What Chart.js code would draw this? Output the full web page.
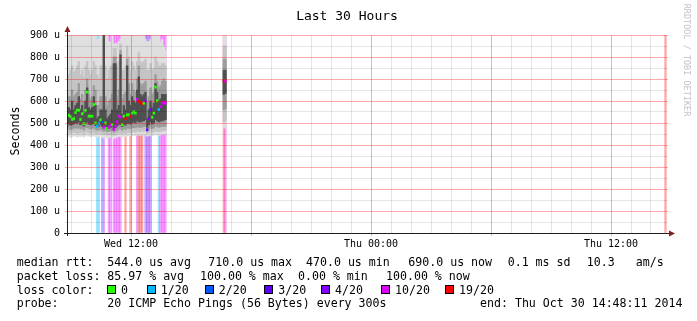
<!DOCTYPE html>
<html>
<head>
<meta charset="utf-8">
<title>Last 30 Hours</title>
<script src="https://cdn.jsdelivr.net/npm/chart.js@4.4.0/dist/chart.umd.min.js"></script>
<style>
body { margin: 0; background: #fff; }
#wrap { position: relative; width: 697px; height: 321px; overflow: hidden; font-family: 'DejaVu Sans Mono', monospace; color: #000; }
#wrap canvas { position: absolute; left: 0; top: 0; }
.t { position: absolute; white-space: pre; font-size: 11.6px; line-height: 14px; }
.box { position: absolute; width: 7px; height: 7px; border: 1px solid #000; }
</style>
</head>
<body>
<div id="wrap">
  <canvas id="myChart" width="697" height="321"></canvas>
  <div class="t" style="left:0; top:8px; width:694px; text-align:center; font-size:13px; line-height:16px;">Last 30 Hours</div>
  <div class="t" style="left:-35px; top:124px; width:100px; text-align:center; transform:rotate(-90deg);">Seconds</div>
  <div class="t" style="left:622px; top:55px; width:130px; text-align:center; font-size:8.5px; line-height:10px; color:#c4c4c4; transform:rotate(90deg);">RRDTOOL / TOBI OETIKER</div>
  <div id="legend"></div>
</div>
<script>
Chart.defaults.font.family = "'DejaVu Sans Mono', monospace";
Chart.defaults.font.size = 10;
Chart.defaults.color = '#000';

// time axis in hours since Wed 00:00, one sample every 300 s
var startHour = 8.85;
var stepHours = 300 / 3600;
var xTickValues = [12, 24, 36];
var xTickLabels = ['Wed 12:00', 'Thu 00:00', 'Thu 12:00'];

// sample slots (5 min each) that hold data
var slot = [0,1,2,3,4,5,6,7,8,9,
            10,11,12,13,14,15,16,17,18,19,
            20,21,22,23,24,25,26,27,28,29,
            30,31,32,33,34,35,36,37,38,39,
            40,41,42,43,44,45,46,47,48,49,
            50,51,52,53,54,55,56,57,58,
            93,94,358];

// median rtt in us
var median = [535,529,516,520,548,558,558,516,542,497,
              557,641,531,531,531,584,500,484,497,514,
              503,481,500,475,480,490,493,471,486,505,
              531,528,493,531,520,537,537,531,545,551,
              545,607,598,591,588,590,601,469,520,561,
              526,545,663,601,561,575,591,591,591,
              690,690,null];

// lost pings out of 20
var lost = [0,0,0,0,0,0,0,0,0,0,
            0,0,0,0,0,0,0,1,1,0,
            2,10,0,0,10,10,0,10,10,10,
            10,10,0,0,19,0,0,19,0,0,
            0,10,19,19,19,0,4,3,4,4,
            0,0,0,0,1,10,10,10,10,
            19,10,20];

// smoke (sorted ping spread) in us
var smokeMin = [440,435,438,442,440,436,440,438,442,436,
                440,445,440,438,440,442,438,436,438,440,
                435,432,436,430,432,434,436,430,432,436,
                440,438,436,440,438,440,442,440,442,444,
                442,446,445,444,446,446,448,440,442,446,
                442,444,448,446,444,446,448,448,450,
                476,480,null];
var smokeP10 = [455,452,455,458,456,452,455,454,458,450,
                455,460,455,452,455,458,452,450,452,455,
                450,448,450,445,446,448,450,444,446,450,
                455,452,450,455,452,455,456,455,458,460,
                458,462,460,460,462,462,464,452,456,462,
                456,460,464,462,460,462,464,464,466,
                505,510,null];
var smokeP25 = [475,470,472,476,478,475,478,472,476,468,
                478,480,475,472,475,478,470,466,468,472,
                466,462,466,460,462,464,466,458,462,466,
                474,472,466,474,470,476,476,474,478,480,
                478,482,480,480,482,484,486,466,472,482,
                474,478,486,484,480,482,484,484,486,
                560,565,null];
var smokeP40 = [495,490,492,496,500,498,505,492,498,486,
                500,505,495,492,495,500,488,482,486,492,
                484,478,484,474,476,480,484,470,478,486,
                495,492,484,495,490,498,498,495,500,505,
                500,510,505,505,508,510,515,480,492,505,
                495,500,515,510,505,508,510,512,515,
                630,635,null];
var smokeP60 = [570,560,600,560,580,590,620,560,580,540,
                600,660,570,560,570,620,580,520,530,560,
                560,950,560,520,530,540,560,770,770,560,
                580,810,540,580,560,760,600,580,620,600,
                590,650,710,630,620,630,640,520,560,600,
                570,590,680,640,600,610,630,630,630,
                740,740,null];
var smokeP75 = [620,620,650,620,630,640,680,610,630,600,
                650,700,630,610,620,670,650,580,580,620,
                620,950,620,580,600,610,630,800,800,620,
                650,830,610,630,640,790,680,630,680,650,
                640,700,760,680,670,680,690,600,620,660,
                630,640,720,690,660,670,690,700,690,
                790,790,null];
var smokeP90 = [720,740,760,730,740,760,780,720,740,710,
                760,780,740,720,740,780,760,720,700,760,
                760,950,760,700,740,760,760,840,840,760,
                780,860,740,740,760,850,800,740,780,760,
                740,780,820,780,770,780,790,740,740,770,
                740,750,800,780,760,760,770,770,760,
                850,850,null];
var smokeMax = [950,950,950,950,950,950,950,950,950,950,
                950,950,950,950,950,950,950,880,880,950,
                900,950,950,950,870,870,950,860,860,860,
                870,880,950,950,950,950,950,950,950,950,
                950,950,900,950,950,950,880,870,870,880,
                950,950,950,950,950,870,880,850,830,
                950,950,null];

// loss colour classes
var lossSteps = [0, 1, 2, 3, 4, 10, 19];
var lossLabels = ['0', '1/20', '2/20', '3/20', '4/20', '10/20', '19/20'];
var lossColors = ['#26ff00', '#00b8ff', '#0059ff', '#5e00ff', '#7e00ff', '#dd00ff', '#ff0000'];

// legend text
var rttStats = ['544.0 us avg', '710.0 us max', '470.0 us min', '690.0 us now', '0.1 ms sd', '10.3', 'am/s'];
var lossStats = ['85.97 % avg', '100.00 % max', '0.00 % min', '100.00 % now'];
var probeText = '20 ICMP Echo Pings (56 Bytes) every 300s';
var endText = 'end: Thu Oct 30 14:48:11 2014';

function lossClass(n) {
  var c = 0;
  for (var i = 0; i < lossSteps.length; i++) if (n >= lossSteps[i]) c = i;
  return c;
}
function fade(hex, a) {
  var r = parseInt(hex.substr(1, 2), 16), g = parseInt(hex.substr(3, 2), 16), b = parseInt(hex.substr(5, 2), 16);
  return 'rgba(' + r + ',' + g + ',' + b + ',' + a + ')';
}

var xs = slot.map(function(s) { return startHour + (s + 0.5) * stepHours; });

function band(lo, hi) {
  var out = [];
  for (var i = 0; i < xs.length; i++) {
    if (lo[i] == null) continue;
    out.push({x: xs[i], y: [lo[i], hi[i]]});
  }
  return out;
}

var barBase = { type: 'bar', grouped: false, barPercentage: 1, categoryPercentage: 1, borderWidth: 0 };

// outer (lightest) to inner (darkest)
var bands = [
  [smokeMin, smokeMax, '#dfdfdf'],
  [smokeP10, smokeP90, '#c4c4c4'],
  [smokeP25, smokeP75, '#9c9c9c'],
  [smokeP40, smokeP60, '#505050']
];

var datasets = [];

// median marks
var medData = [], medColors = [];
for (var i = 0; i < xs.length; i++) {
  if (median[i] == null) continue;
  medData.push({x: xs[i], y: [median[i] - 5, median[i] + 5]});
  medColors.push(lossColors[lossClass(lost[i])]);
}
datasets.push(Object.assign({}, barBase, { data: medData, backgroundColor: medColors, order: 0 }));

// smoke, inner band drawn last (lowest order)
for (var b = 0; b < bands.length; b++) {
  datasets.push(Object.assign({}, barBase, {
    data: band(bands[b][0], bands[b][1]),
    backgroundColor: bands[b][2],
    order: bands.length - b
  }));
}

// loss background
var lossData = [], lossBg = [];
for (var i = 0; i < xs.length; i++) {
  if (!lost[i]) continue;
  lossData.push({x: xs[i], y: [0, 900]});
  lossBg.push(fade(lossColors[lossClass(lost[i])], 0.35));
}
datasets.push(Object.assign({}, barBase, { data: lossData, backgroundColor: lossBg, order: 10 }));

var majorRed = 'rgba(255,0,0,0.33)';
var minorGray = 'rgba(0,0,0,0.1)';

function isMajor(v, every) { return Math.abs(v % every) < 1e-6; }

var rrdAxes = {
  id: 'rrdAxes',
  afterDraw: function(chart) {
    var c = chart.ctx, a = chart.chartArea;
    c.save();
    c.fillStyle = '#1f1f1f';
    c.fillRect(a.left - 1, a.top - 4, 1, a.bottom - a.top + 7);
    c.fillRect(a.left - 4, a.bottom, a.right - a.left + 6, 1);
    c.fillStyle = '#801f1f';
    c.beginPath();
    c.moveTo(a.left - 0.5, a.top - 9);
    c.lineTo(a.left - 3.5, a.top - 3);
    c.lineTo(a.left + 2.5, a.top - 3);
    c.closePath();
    c.fill();
    c.beginPath();
    c.moveTo(a.right + 7, a.bottom + 0.5);
    c.lineTo(a.right + 1, a.bottom - 2.5);
    c.lineTo(a.right + 1, a.bottom + 3.5);
    c.closePath();
    c.fill();
    c.restore();
  }
};

var ctx = document.getElementById('myChart').getContext('2d');
var chart = new Chart(ctx, {
  type: 'bar',
  data: { datasets: datasets },
  plugins: [rrdAxes],
  options: {
    responsive: false,
    animation: false,
    layout: { padding: { left: 0, right: 29, top: 35, bottom: 68 } },
    plugins: { legend: { display: false }, tooltip: { enabled: false }, title: { display: false } },
    scales: {
      x: {
        type: 'linear',
        min: startHour,
        max: startHour + 30,
        offset: false,
        afterFit: function(s) { s.height = 20; },
        afterBuildTicks: function(axis) {
          var t = [];
          for (var h = Math.ceil(axis.min); h <= axis.max; h++) t.push({value: h});
          axis.ticks = t;
        },
        grid: {
          z: 1,
          offset: false,
          tickLength: 3,
          color: function(c) { return isMajor(c.tick.value, 6) ? majorRed : minorGray; },
          tickColor: function(c) { return isMajor(c.tick.value, 6) ? majorRed : 'rgba(0,0,0,0)'; }
        },
        border: { display: false },
        ticks: {
          autoSkip: false,
          maxRotation: 0,
          padding: 2,
          font: { size: 10 },
          callback: function(v) {
            var k = xTickValues.indexOf(v);
            return k < 0 ? '' : xTickLabels[k];
          }
        }
      },
      y: {
        min: 0,
        max: 900,
        afterFit: function(s) { s.width = 68; },
        grid: {
          z: 1,
          tickLength: 3,
          color: function(c) { return isMajor(c.tick.value, 100) ? majorRed : minorGray; },
          tickColor: function(c) { return isMajor(c.tick.value, 100) ? majorRed : minorGray; }
        },
        border: { display: false },
        ticks: {
          stepSize: 50,
          autoSkip: false,
          padding: 5,
          font: { size: 10 },
          callback: function(v) {
            if (v % 100 !== 0) return '';
            return v === 0 ? '0' : v + ' u';
          }
        }
      }
    }
  }
});

// legend below the graph
var legend = document.getElementById('legend');
function put(text, x, y) {
  var d = document.createElement('div');
  d.className = 't';
  d.style.left = x + 'px';
  d.style.top = (y - 7) + 'px';
  d.textContent = text;
  legend.appendChild(d);
}
var rowY = [262, 276, 289.5, 303.3];
var rttX = [107.3, 208.3, 306, 408.3, 507.7, 586.7, 635.7];
var lossX = [107.3, 200, 298, 386];
var boxX = [107, 146.7, 204.7, 264.3, 321, 381, 445];

put('median rtt:', 16.7, rowY[0]);
rttStats.forEach(function(s, i) { put(s, rttX[i], rowY[0]); });
put('packet loss:', 16.7, rowY[1]);
lossStats.forEach(function(s, i) { put(s, lossX[i], rowY[1]); });
put('loss color:', 16.7, rowY[2]);
lossLabels.forEach(function(s, i) {
  var bx = document.createElement('div');
  bx.className = 'box';
  bx.style.left = boxX[i] + 'px';
  bx.style.top = (rowY[2] - 4.5) + 'px';
  bx.style.background = lossColors[i];
  legend.appendChild(bx);
  put(s, boxX[i] + 14, rowY[2]);
});
put('probe:', 16.7, rowY[3]);
put(probeText, 107.3, rowY[3]);
put(endText, 480, rowY[3]);
</script>
</body>
</html>
